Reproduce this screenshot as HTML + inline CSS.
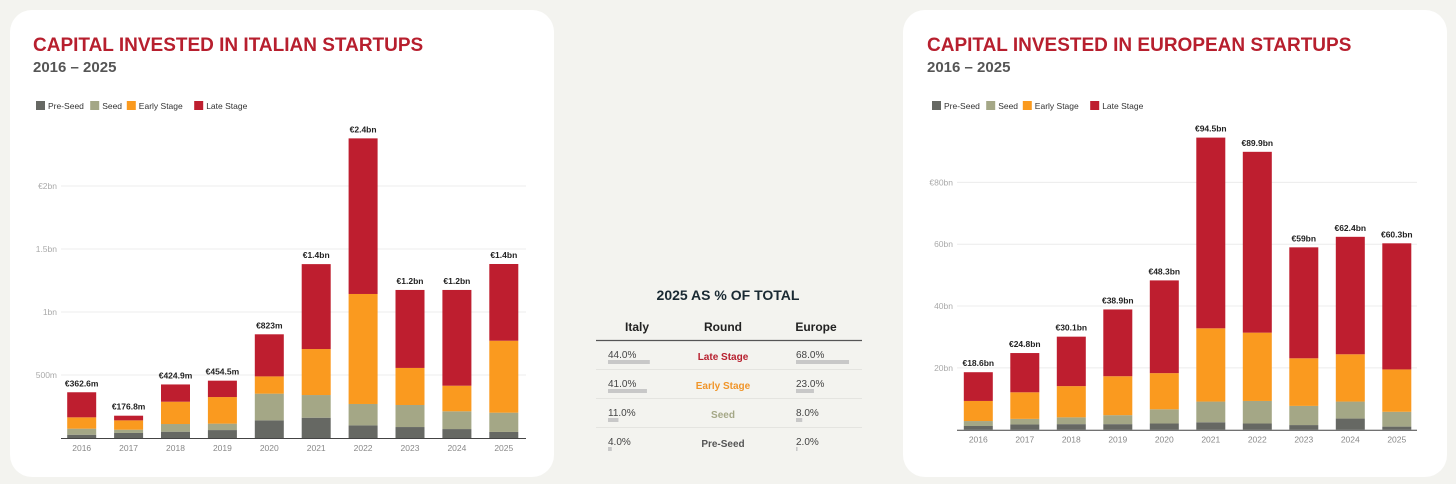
<!DOCTYPE html>
<html><head><meta charset="utf-8"><style>
html,body{margin:0;padding:0;background:#f3f3ef;}
svg{display:block;font-family:"Liberation Sans",Arial,sans-serif;}
</style></head><body>
<svg id="root" width="1456" height="484" viewBox="0 0 1456 484" xmlns="http://www.w3.org/2000/svg">
<rect x="0" y="0" width="1456" height="484" fill="#f3f3ef"/>
<rect x="10" y="10" width="544" height="467" rx="22" fill="#fff"/>
<rect x="903" y="10" width="544" height="467" rx="22" fill="#fff"/>
<text x="33" y="51" font-size="19" font-weight="bold" fill="#b71f2e">CAPITAL INVESTED IN ITALIAN STARTUPS</text>
<text x="33" y="72" font-size="15" font-weight="bold" fill="#555">2016 – 2025</text>
<text x="927" y="51" font-size="19" font-weight="bold" fill="#b71f2e">CAPITAL INVESTED IN EUROPEAN STARTUPS</text>
<text x="927" y="72" font-size="15" font-weight="bold" fill="#555">2016 – 2025</text>
<g id="italy"></g>
<g id="europe"></g>
<g id="table">
<text x="728" y="300" font-size="14" font-weight="bold" fill="#1a2a33" text-anchor="middle">2025 AS % OF TOTAL</text>
<text x="637" y="331" font-size="12" font-weight="bold" fill="#222" text-anchor="middle">Italy</text>
<text x="723" y="331" font-size="12" font-weight="bold" fill="#222" text-anchor="middle">Round</text>
<text x="816" y="331" font-size="12" font-weight="bold" fill="#222" text-anchor="middle">Europe</text>
<line x1="596" y1="340.5" x2="862" y2="340.5" stroke="#555" stroke-width="1.2"/>
</g>
</svg>
<script>
const years=["2016","2017","2018","2019","2020","2021","2022","2023","2024","2025"];
const seriesNames=["Pre-Seed","Seed","Early Stage","Late Stage"];
const colors=["#666863","#a4a786","#fa9a1f","#be1e2f"];
const itPre=[26,40,50,63,140,161,100,87,71,48];
const itSeed=[48,26,61,51,212,180,170,175,141,153];
const itEarly=[90,74,177,211,137,365,873,294,203,571];
const itLate=[199,37,137,130,334,674,1235,619,760,609];
const itLabels=["€362.6m","€176.8m","€424.9m","€454.5m","€823m","€1.4bn","€2.4bn","€1.2bn","€1.2bn","€1.4bn"];
const itTicks=[500,1000,1500,2000];
const itTickLabels=["500m","1bn","1.5bn","€2bn"];
const euPre=[1.2,1.7,1.8,1.8,2.0,2.4,2.0,1.5,3.6,1.0];
const euSeed=[1.6,1.8,2.2,2.9,4.6,6.7,7.3,6.2,5.5,4.8];
const euEarly=[6.5,8.6,10.1,12.6,11.7,23.7,22.1,15.4,15.3,13.7];
const euLate=[9.3,12.7,16.0,21.6,30.0,61.7,58.5,35.9,38.0,40.8];
const euLabels=["€18.6bn","€24.8bn","€30.1bn","€38.9bn","€48.3bn","€94.5bn","€89.9bn","€59bn","€62.4bn","€60.3bn"];
const euTicks=[20,40,60,80];
const euTickLabels=["20bn","40bn","60bn","€80bn"];
const rounds=["Late Stage","Early Stage","Seed","Pre-Seed"];
const roundColors=["#b71f2e","#f0952a","#a4a786","#555"];
const itPct=[44.0,41.0,11.0,4.0];
const euPct=[68.0,23.0,8.0,2.0];

const NS="http://www.w3.org/2000/svg";
function mk(p,tag,attrs){const e=document.createElementNS(NS,tag);for(const k in attrs)e.setAttribute(k,attrs[k]);p.appendChild(e);return e;}

function chart(g,cfg){
  const y=v=>cfg.base-v*cfg.k;
  const x=i=>cfg.x0+i*cfg.step;
  // legend
  let lx=cfg.legX;
  seriesNames.forEach((n,i)=>{
    const r=mk(g,'rect',{x:lx,y:101,width:9,height:9,fill:colors[i]});
    
    
    const t=mk(g,'text',{x:lx+12,y:109,'font-size':8.5,fill:'#333'});t.textContent=n;
    
    
    lx+=12+n.length*4.4+7;
  });
  cfg.ticks.forEach((v,i)=>{
    const l=mk(g,'line',{x1:cfg.plotL,x2:cfg.plotR,y1:y(v),y2:y(v),stroke:'#ececec','stroke-width':1});
    
    
    const t=mk(g,'text',{x:cfg.plotL-4,y:y(v)+3,'font-size':8.5,fill:'#aaa','text-anchor':'end'});t.textContent=cfg.tickLabels[i];
    
    
  });
  years.forEach((yr,i)=>{
    let acc=0;
    cfg.series.forEach((s,j)=>{
      const r=mk(g,'rect',{x:x(i)-14.5,y:y(acc+s[i]),width:29,height:s[i]*cfg.k,fill:colors[j]});
      
      
      acc+=s[i];
    });
    const t=mk(g,'text',{x:x(i),y:y(acc)-6,'font-size':8.5,'font-weight':'bold',fill:'#222','text-anchor':'middle'});t.textContent=cfg.labels[i];
    
    
    const xt=mk(g,'text',{x:x(i),y:cfg.base+13,'font-size':8.5,fill:'#888','text-anchor':'middle'});xt.textContent=yr;
    
    
  });
  const ax=mk(g,'line',{x1:cfg.plotL,x2:cfg.plotR,y1:cfg.base+0.5,y2:cfg.base+0.5,stroke:'#444','stroke-width':1});
  
  
}
chart(document.getElementById('italy'),{base:438,k:0.126,x0:81.7,step:46.9,plotL:61,plotR:526,legX:36,ticks:itTicks,tickLabels:itTickLabels,labels:itLabels,series:[itPre,itSeed,itEarly,itLate]});
chart(document.getElementById('europe'),{base:429.7,k:3.091,x0:978.3,step:46.5,plotL:957,plotR:1417,legX:932,ticks:euTicks,tickLabels:euTickLabels,labels:euLabels,series:[euPre,euSeed,euEarly,euLate]});

const tg=document.getElementById('table');
rounds.forEach((r,i)=>{
  const ry=355+i*29;
  const a=mk(tg,'text',{x:608,y:ry+3,'font-size':10,fill:'#444'});a.textContent=itPct[i].toFixed(1)+'%';
  
  
  const ab=mk(tg,'rect',{x:608,y:ry+5,width:Math.max(1,itPct[i]*0.95),height:4,fill:'#c8c8c8'});
  
  
  const rn=mk(tg,'text',{x:723,y:ry+5,'font-size':10,'font-weight':'bold',fill:roundColors[i],'text-anchor':'middle'});rn.textContent=r;
  
  
  const e=mk(tg,'text',{x:796,y:ry+3,'font-size':10,fill:'#444'});e.textContent=euPct[i].toFixed(1)+'%';
  
  
  const eb=mk(tg,'rect',{x:796,y:ry+5,width:Math.max(1,euPct[i]*0.78),height:4,fill:'#c8c8c8'});
  
  
  if(i<3){const l=mk(tg,'line',{x1:596,x2:862,y1:ry+14.5,y2:ry+14.5,stroke:'#e4e4e0','stroke-width':1});
  
  }
});
</script>
</body></html>
